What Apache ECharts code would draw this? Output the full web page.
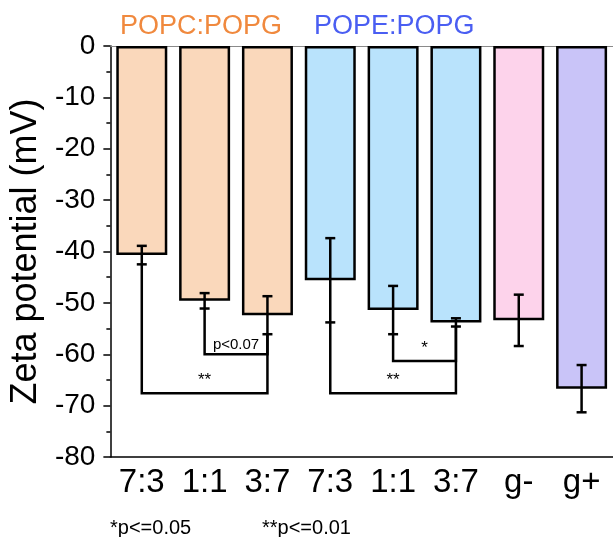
<!DOCTYPE html>
<html>
<head>
<meta charset="utf-8">
<title>Zeta potential</title>
<script src="https://cdn.jsdelivr.net/npm/echarts@6/dist/echarts.min.js"></script>
<style>
html, body { margin: 0; padding: 0; background: #fff; }
#main { width: 613px; height: 537px; }
</style>
</head>
<body>
<div id="main"></div>
<script>
// data
var categories = ['7:3', '1:1', '3:7', '7:3', '1:1', '3:7', 'g-', 'g+'];
var zeta = [-40.7, -49.6, -52.4, -45.6, -51.4, -53.8, -53.4, -66.7];
var zetaErr = [1.8, 1.5, 3.7, 8.2, 4.7, 0.8, 5.0, 4.6];
var barColors = ['#fad8bb', '#fad8bb', '#fad8bb', '#b9e3fc', '#b9e3fc', '#b9e3fc', '#fdd3eb', '#c9c4f8'];
// significance brackets: from bar, to bar, bracket level (mV), label
var bracketFrom = [0, 1, 3, 4];
var bracketTo = [2, 2, 5, 5];
var bracketLevel = [-67.6, -60.0, -67.6, -61.3];
var bracketText = ['**', 'p<0.07', '**', '*'];

var font = '"Liberation Sans", Arial, Helvetica, sans-serif';
var myChart = echarts.init(document.getElementById('main'));

var option = {
	animation: false,
	grid: { left: 107, top: 46, width: 510, height: 411 },
	graphic: [
		{ type: 'text', left: 120, top: 13, style: { text: 'POPC:POPG', fill: '#f0893e', font: '27px ' + font } },
		{ type: 'text', left: 314, top: 13, style: { text: 'POPE:POPG', fill: '#4a5ef2', font: '27px ' + font } },
		{ type: 'text', left: 110, top: 518, style: { text: '*p<=0.05', fill: '#000', font: '20px ' + font } },
		{ type: 'text', left: 262, top: 518, style: { text: '**p<=0.01', fill: '#000', font: '20px ' + font } }
	],
	xAxis: [{
		type: 'category',
		data: categories,
		position: 'bottom',
		axisLine: { onZero: false, lineStyle: { color: '#000', width: 1.5 } },
		axisTick: { alignWithLabel: true, interval: 0, length: 8, lineStyle: { color: '#000', width: 1.5 } },
		axisLabel: { interval: 0, color: '#000', fontSize: 33, fontFamily: font, margin: 9 },
		splitLine: { show: false }
	}, {
		// short ticks between the bars
		type: 'category',
		data: categories,
		position: 'bottom',
		axisLine: { show: false, onZero: false },
		axisTick: { interval: 0, length: 4, lineStyle: { color: '#000', width: 1.5 } },
		axisLabel: { show: false },
		splitLine: { show: false }
	}, {
		// thin grey line at 0
		type: 'category',
		data: categories,
		position: 'top',
		axisLine: { onZero: false, lineStyle: { color: '#8a8a8a', width: 1.2 } },
		axisTick: { show: false },
		axisLabel: { show: false },
		splitLine: { show: false }
	}],
	yAxis: {
		type: 'value',
		min: -80,
		max: 0,
		interval: 10,
		name: 'Zeta potential (mV)',
		nameLocation: 'middle',
		nameGap: 62,
		nameTextStyle: { color: '#000', fontSize: 36, fontFamily: font },
		axisLine: { show: true, lineStyle: { color: '#000', width: 1.5 } },
		axisTick: { show: true, length: 7, lineStyle: { color: '#000', width: 1.5 } },
		minorTick: { show: true, splitNumber: 2, length: 4, lineStyle: { color: '#000', width: 1.5 } },
		splitLine: { show: false },
		axisLabel: { color: '#000', fontSize: 28, fontFamily: font, margin: 15 }
	},
	series: [{
		name: 'zeta',
		type: 'bar',
		xAxisIndex: 0,
		barWidth: 51,
		data: zeta.map(function(v, i) {
			return { value: v, itemStyle: { color: barColors[i] } };
		}),
		itemStyle: { borderColor: '#000', borderWidth: 2.5 },
		z: 2
	}, {
		name: 'error',
		type: 'custom',
		xAxisIndex: 0,
		z: 3,
		data: zeta.map(function(v, i) { return [i, v, zetaErr[i]]; }),
		renderItem: function(params, api) {
			var i = api.value(0);
			var hi = api.coord([i, api.value(1) + api.value(2)]);
			var lo = api.coord([i, api.value(1) - api.value(2)]);
			var w = 5;
			var st = { stroke: '#000', lineWidth: 2.5 };
			return {
				type: 'group',
				children: [
					{ type: 'line', shape: { x1: hi[0], y1: hi[1], x2: lo[0], y2: lo[1] }, style: st },
					{ type: 'line', shape: { x1: hi[0] - w, y1: hi[1], x2: hi[0] + w, y2: hi[1] }, style: st },
					{ type: 'line', shape: { x1: lo[0] - w, y1: lo[1], x2: lo[0] + w, y2: lo[1] }, style: st }
				]
			};
		}
	}, {
		name: 'brackets',
		type: 'custom',
		xAxisIndex: 0,
		z: 3,
		data: bracketLevel.map(function(v, k) { return [bracketFrom[k], v]; }),
		renderItem: function(params, api) {
			var k = params.dataIndex;
			var a = bracketFrom[k], b = bracketTo[k], lev = bracketLevel[k];
			var p1 = api.coord([a, zeta[a] - zetaErr[a]]);
			var p2 = api.coord([a, lev]);
			var p3 = api.coord([b, lev]);
			var p4 = api.coord([b, zeta[b] - zetaErr[b]]);
			var small = bracketText[k].charAt(0) === 'p';
			return {
				type: 'group',
				children: [{
					type: 'polyline',
					shape: { points: [p1, p2, p3, p4] },
					style: { stroke: '#000', lineWidth: 2.5, fill: null }
				}, {
					type: 'text',
					x: (p2[0] + p3[0]) / 2,
					y: p2[1] - (small ? 2 : 4),
					style: {
						text: bracketText[k],
						fill: '#000',
						font: (small ? '15px ' : '17px ') + font,
						align: 'center',
						verticalAlign: 'bottom'
					}
				}]
			};
		}
	}]
};

myChart.setOption(option);
</script>
</body>
</html>
